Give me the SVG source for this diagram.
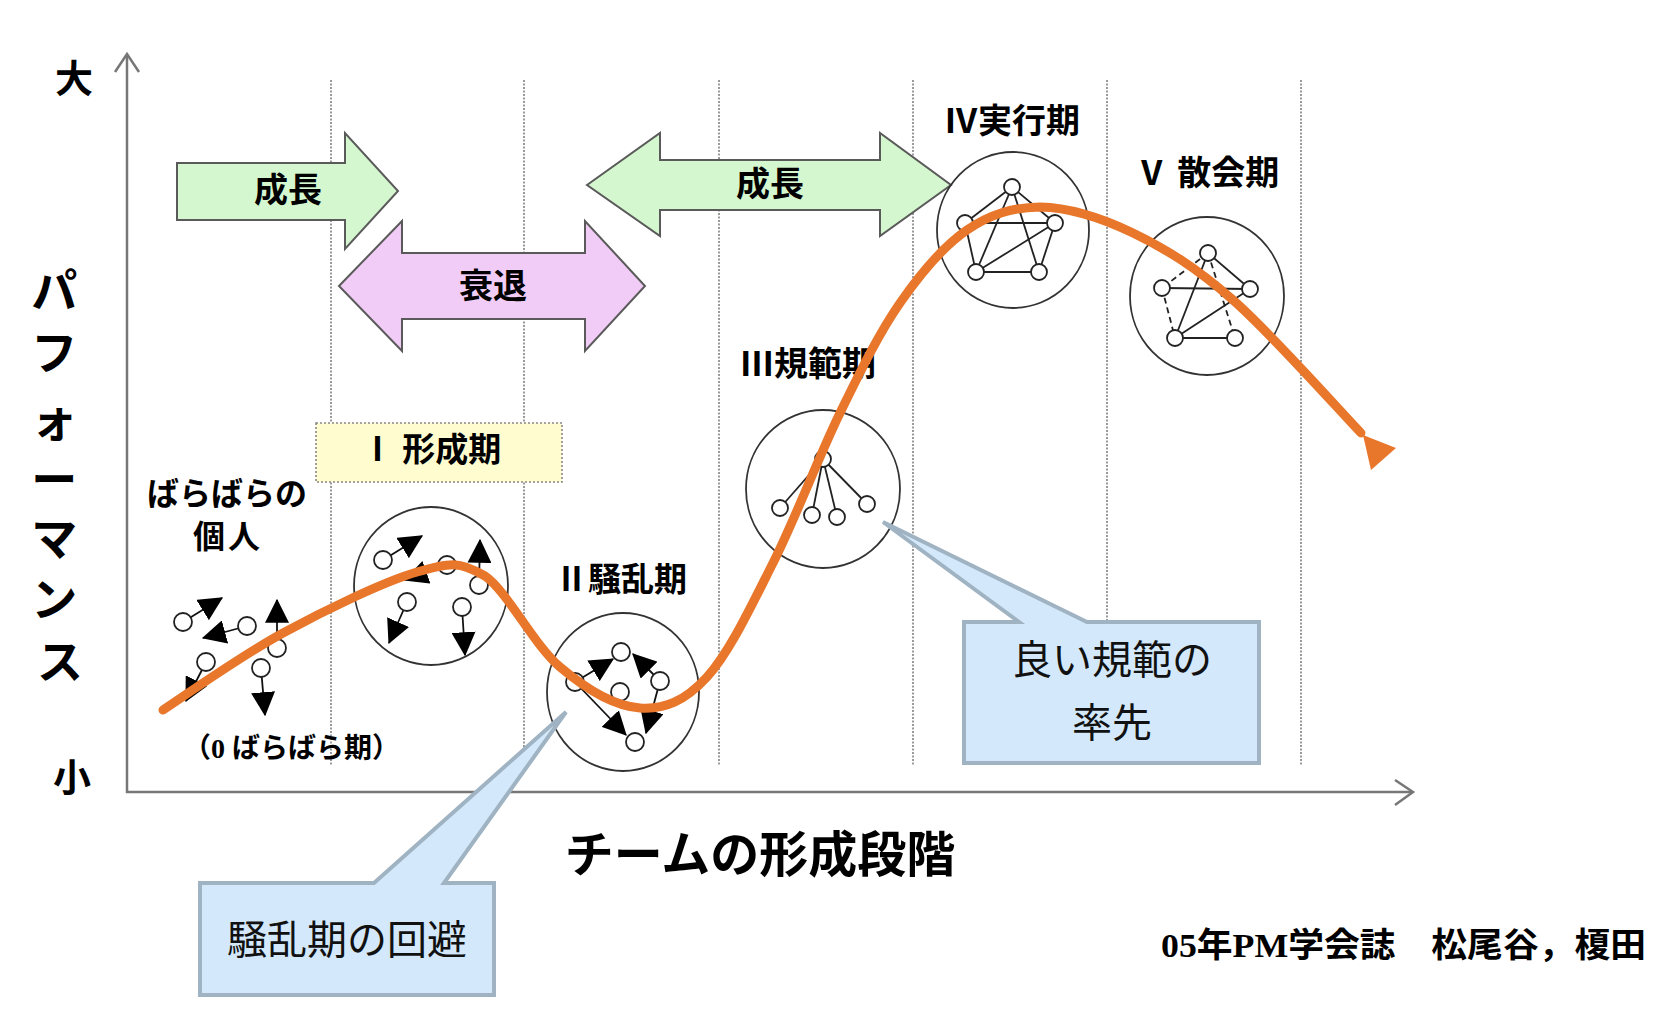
<svg xmlns="http://www.w3.org/2000/svg" width="1665" height="1012" viewBox="0 0 1665 1012">
<style>
.bg{fill:#ffffff}
.grid{stroke:#7a7a7a;stroke-width:1.5;stroke-dasharray:2 1.5;fill:none}
.axis{stroke:#777777;stroke-width:2.5;fill:none}
.grow{fill:#D5F7CF;stroke:#5a5a5a;stroke-width:2;stroke-linejoin:miter}
.decl{fill:#F1CCF6;stroke:#5a5a5a;stroke-width:2}
.phase{fill:#FFFCD0;stroke:#888888;stroke-width:1.6;stroke-dasharray:2 2}
.ring{fill:none;stroke:#333333;stroke-width:1.8}
.nd{fill:#ffffff;stroke:#222222;stroke-width:1.8}
.edge{stroke:#222222;stroke-width:1.8;fill:none}
.dash{stroke:#222222;stroke-width:1.8;fill:none;stroke-dasharray:6 4}
.mv{stroke:#111111;stroke-width:1.8;fill:none;marker-end:url(#tri)}
.curve{fill:none;stroke:#E8762B;stroke-width:9;stroke-linecap:round;stroke-linejoin:round}
.callout{fill:#D3E9FB;stroke:#A0B3C3;stroke-width:4;stroke-linejoin:miter}
.lbl{font-family:"Liberation Serif","Noto Sans CJK JP",serif;font-weight:bold;fill:#000000;text-anchor:middle}
.goth{font-family:"Noto Sans CJK JP","Liberation Sans",sans-serif;font-weight:bold;fill:#000000;text-anchor:middle}
.note{font-family:"Noto Sans CJK JP","Liberation Serif",serif;font-weight:normal;fill:#111111;text-anchor:middle}
</style>
<defs>
<marker id="tri" markerUnits="userSpaceOnUse" viewBox="0 0 20 20" refX="19" refY="10" markerWidth="24" markerHeight="24" orient="auto">
<path d="M0,0 L20,10 L0,20 Z" fill="#000000"/>
</marker>
</defs>
<rect class="bg" x="0" y="0" width="1665" height="1012"/>

<g id="grid-lines">
<line class="grid" x1="331" y1="80" x2="331" y2="765"/>
<line class="grid" x1="524" y1="80" x2="524" y2="765"/>
<line class="grid" x1="719" y1="80" x2="719" y2="765"/>
<line class="grid" x1="913" y1="80" x2="913" y2="765"/>
<line class="grid" x1="1107" y1="80" x2="1107" y2="765"/>
<line class="grid" x1="1301" y1="80" x2="1301" y2="765"/>
</g>

<g id="axes">
<polyline class="axis" points="127,55 127,792 1412,792"/>
<polyline class="axis" points="115,72 127,54 139,72"/>
<polyline class="axis" points="1395,780 1413,792 1395,805"/>
<text class="lbl" x="74" y="92" font-size="38" font-weight="500">大</text>
<text class="lbl" x="72" y="791" font-size="38" font-weight="500">小</text>
<text class="lbl" font-size="46">
<tspan x="60" y="307">パ</tspan>
<tspan x="60" y="369">フ</tspan>
<tspan x="60" y="436">ォ</tspan>
<tspan x="60" y="496">ー</tspan>
<tspan x="60" y="555">マ</tspan>
<tspan x="60" y="616">ン</tspan>
<tspan x="60" y="678">ス</tspan>
</text>
<text class="goth" x="760" y="872" font-size="49">チームの形成段階</text>
</g>

<g id="arrow-growth-1">
<polygon class="grow" points="177,163 345,163 345,133 398,191 345,249 345,220 177,220"/>
<text class="lbl" x="288" y="202" font-size="34">成長</text>
</g>

<g id="arrow-decline">
<polygon class="decl" points="339,286 402,221 402,253 585,253 585,221 645,286 585,351 585,319 402,319 402,351"/>
<text class="lbl" x="493" y="298" font-size="34">衰退</text>
</g>

<g id="arrow-growth-2">
<polygon class="grow" points="587,185 660,133 660,160 880,160 880,133 951,185 880,236 880,210 660,210 660,236"/>
<text class="lbl" x="770" y="196" font-size="34">成長</text>
</g>

<g id="phase-1-label">
<rect class="phase" x="316" y="423" width="246" height="59"/>
<text class="lbl" x="431" y="461" font-size="33">Ⅰ 形成期</text>
</g>

<g id="stage-0">
<text class="goth" x="227" y="505" font-size="32">ばらばらの</text>
<text class="goth" x="228" y="548" font-size="32" letter-spacing="3">個人</text>
<line class="mv" x1="183" y1="622" x2="222" y2="598"/>
<line class="mv" x1="247" y1="626" x2="203" y2="638"/>
<line class="mv" x1="277" y1="648" x2="277" y2="600"/>
<line class="mv" x1="206" y1="662" x2="186" y2="701"/>
<line class="mv" x1="261" y1="668" x2="265" y2="715"/>
<circle class="nd" cx="183" cy="622" r="9"/>
<circle class="nd" cx="247" cy="626" r="9"/>
<circle class="nd" cx="277" cy="648" r="9"/>
<circle class="nd" cx="206" cy="662" r="9"/>
<circle class="nd" cx="261" cy="668" r="9"/>
<text class="lbl" x="183" y="758" font-size="28" style="text-anchor:start" textLength="217" lengthAdjust="spacingAndGlyphs">（0 ばらばら期）</text>
</g>

<g id="stage-1">
<ellipse class="ring" cx="431" cy="586" rx="77" ry="79"/>
<line class="mv" x1="383" y1="560" x2="422" y2="536"/>
<line class="mv" x1="447" y1="565" x2="405" y2="580"/>
<line class="mv" x1="479" y1="585" x2="480" y2="540"/>
<line class="mv" x1="407" y1="602" x2="389" y2="643"/>
<line class="mv" x1="462" y1="607" x2="465" y2="655"/>
<circle class="nd" cx="383" cy="560" r="9"/>
<circle class="nd" cx="447" cy="565" r="9"/>
<circle class="nd" cx="479" cy="585" r="9"/>
<circle class="nd" cx="407" cy="602" r="9"/>
<circle class="nd" cx="462" cy="607" r="9"/>
</g>

<g id="stage-2">
<text class="lbl" x="621" y="591" font-size="33">Ⅱ騒乱期</text>
<ellipse class="ring" cx="623" cy="692" rx="76" ry="79"/>
<line class="mv" x1="575" y1="682" x2="613" y2="659"/>
<line class="mv" x1="660" y1="681" x2="633" y2="654"/>
<line class="mv" x1="575" y1="682" x2="626" y2="735"/>
<line class="mv" x1="660" y1="681" x2="646" y2="733"/>
<circle class="nd" cx="575" cy="682" r="9"/>
<circle class="nd" cx="621" cy="652" r="9"/>
<circle class="nd" cx="660" cy="681" r="9"/>
<circle class="nd" cx="620" cy="692" r="9"/>
<circle class="nd" cx="635" cy="742" r="9"/>
</g>

<g id="stage-3">
<text class="lbl" x="808" y="376" font-size="34">Ⅲ規範期</text>
<ellipse class="ring" cx="823" cy="489" rx="77" ry="79"/>
<line class="edge" x1="823" y1="459" x2="780" y2="508"/>
<line class="edge" x1="823" y1="459" x2="812" y2="515"/>
<line class="edge" x1="823" y1="459" x2="837" y2="517"/>
<line class="edge" x1="823" y1="459" x2="867" y2="504"/>
<circle class="nd" cx="823" cy="459" r="8"/>
<circle class="nd" cx="780" cy="508" r="8"/>
<circle class="nd" cx="812" cy="515" r="8"/>
<circle class="nd" cx="837" cy="517" r="8"/>
<circle class="nd" cx="867" cy="504" r="8"/>
</g>

<g id="stage-4">
<text class="lbl" x="1012" y="133" font-size="34">Ⅳ実行期</text>
<ellipse class="ring" cx="1013" cy="230" rx="76" ry="78"/>
<line class="edge" x1="1012" y1="187" x2="965" y2="223"/>
<line class="edge" x1="1012" y1="187" x2="1055" y2="223"/>
<line class="edge" x1="1012" y1="187" x2="976" y2="272"/>
<line class="edge" x1="1012" y1="187" x2="1039" y2="272"/>
<line class="edge" x1="965" y1="223" x2="1055" y2="223"/>
<line class="edge" x1="965" y1="223" x2="976" y2="272"/>
<line class="edge" x1="1055" y1="223" x2="1039" y2="272"/>
<line class="edge" x1="1055" y1="223" x2="976" y2="272"/>
<line class="edge" x1="976" y1="272" x2="1039" y2="272"/>
<circle class="nd" cx="1012" cy="187" r="8"/>
<circle class="nd" cx="965" cy="223" r="8"/>
<circle class="nd" cx="1055" cy="223" r="8"/>
<circle class="nd" cx="976" cy="272" r="8"/>
<circle class="nd" cx="1039" cy="272" r="8"/>
</g>

<g id="stage-5">
<text class="lbl" x="1207" y="185" font-size="34">Ⅴ 散会期</text>
<ellipse class="ring" cx="1207" cy="296" rx="77" ry="79"/>
<line class="edge" x1="1208" y1="253" x2="1250" y2="289"/>
<line class="edge" x1="1162" y1="288" x2="1250" y2="289"/>
<line class="edge" x1="1208" y1="253" x2="1175" y2="338"/>
<line class="edge" x1="1175" y1="338" x2="1250" y2="289"/>
<line class="edge" x1="1175" y1="338" x2="1235" y2="338"/>
<line class="dash" x1="1208" y1="253" x2="1162" y2="288"/>
<line class="dash" x1="1162" y1="288" x2="1175" y2="338"/>
<line class="dash" x1="1208" y1="253" x2="1235" y2="338"/>
<circle class="nd" cx="1208" cy="253" r="8"/>
<circle class="nd" cx="1162" cy="288" r="8"/>
<circle class="nd" cx="1250" cy="289" r="8"/>
<circle class="nd" cx="1175" cy="338" r="8"/>
<circle class="nd" cx="1235" cy="338" r="8"/>
</g>

<g id="connectors">
<path class="curve" d="M163,710 C183,697 240.7,656 283,633 C325.3,610 383.7,581.7 417,572 C450.3,562.3 459.2,561 485,576 C506.8,590.8 533.8,644.8 560,667 C586.2,689.2 615.5,706.3 640,708 C664.5,709.7 684.8,701.2 707,677 C729.2,652.8 750.8,607 773,563 C795.2,519 818.8,456.3 840,413 C861.2,369.7 878.8,333.5 900,303 C921.2,272.5 943.7,246 967,230 C990.3,214 1012.3,207.5 1040,207 C1067.7,207.5 1100.8,217.5 1133,233 C1165.2,248.5 1195,266.7 1233,300 C1271,333.3 1339.7,410.8 1361,433"/>
<polygon points="1363,435 1396,448 1371,470" fill="#E8762B"/>
</g>

<g id="callout-avoid-storming">
<path class="callout" d="M200,883 L374,883 L566,712 L444,883 L494,883 L494,995 L200,995 Z"/>
<text class="note" x="347" y="954" font-size="40">騒乱期の回避</text>
</g>

<g id="callout-good-norms">
<path class="callout" d="M964,622 L1019,622 L883,522 L1087,622 L1259,622 L1259,763 L964,763 Z"/>
<text class="note" x="1112" y="674" font-size="40">良い規範の</text>
<text class="note" x="1112" y="737" font-size="40">率先</text>
</g>

<g id="credit">
<text class="lbl" x="1161" y="957" font-size="34" style="text-anchor:start" textLength="485" lengthAdjust="spacingAndGlyphs">05年PM学会誌　松尾谷，榎田</text>
</g>
</svg>
